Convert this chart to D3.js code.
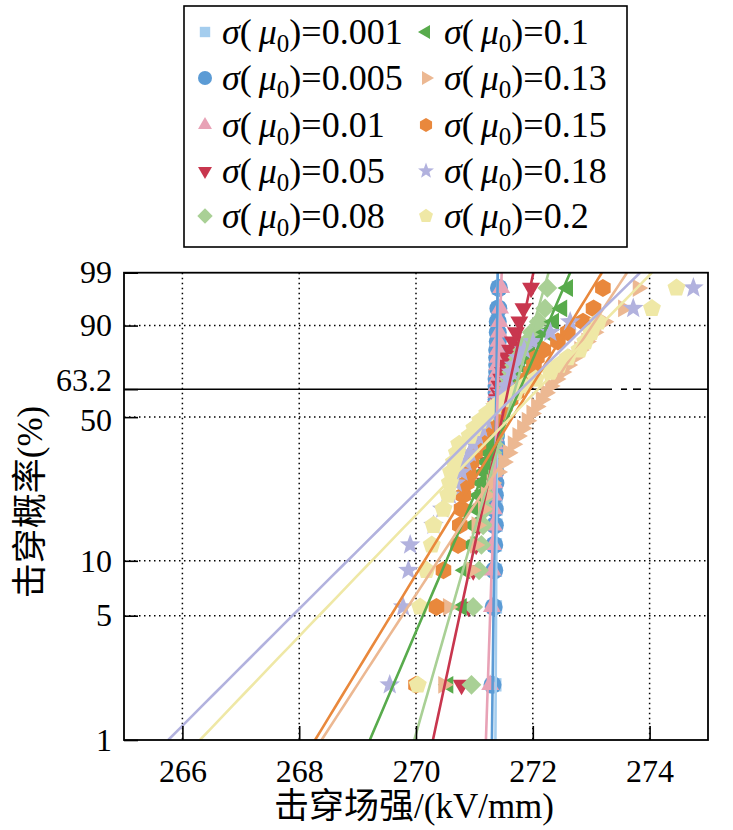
<!DOCTYPE html>
<html><head><meta charset="utf-8">
<script src="https://cdn.jsdelivr.net/npm/d3@7/dist/d3.min.js"></script>
<style>body{margin:0;background:#fff}</style>
</head><body>
<svg id="c" width="733" height="830"></svg>
<script>
// ---------- data ----------
const probTicks = [1, 5, 10, 50, 63.2, 90, 99];
const xTicks = [266, 268, 270, 272, 274];
// plotted cumulative probability (%) of each of the 30 ranked points
const rankProb = [2.05, 5.59, 8.88, 12.17, 15.46, 18.75, 22.04, 25.33, 28.62, 31.91,
  35.20, 38.49, 41.78, 45.07, 48.36, 51.64, 54.93, 58.22, 61.51, 64.80,
  68.09, 71.38, 74.67, 77.96, 81.25, 84.54, 87.83, 91.12, 94.41, 97.70];
const sigmaLabels = ["0.001", "0.005", "0.01", "0.05", "0.08", "0.1", "0.13", "0.15", "0.18", "0.2"];

const s0001 = [271.35,271.36,271.36,271.36,271.37,271.37,271.37,271.37,271.37,271.37,271.38,271.38,271.38,271.38,271.38,271.38,271.38,271.38,271.38,271.39,271.39,271.39,271.39,271.39,271.39,271.39,271.40,271.40,271.40,271.41];
const s0005 = [271.31,271.33,271.34,271.34,271.35,271.35,271.35,271.36,271.36,271.36,271.36,271.37,271.37,271.37,271.37,271.37,271.38,271.38,271.38,271.38,271.38,271.39,271.39,271.39,271.39,271.40,271.40,271.40,271.41,271.42];
const s001 = [271.27,271.30,271.31,271.32,271.33,271.33,271.33,271.34,271.34,271.34,271.35,271.35,271.35,271.36,271.36,271.36,271.37,271.37,271.37,271.38,271.38,271.39,271.39,271.40,271.40,271.41,271.42,271.43,271.44,271.46];
const s005 = [270.78,270.90,270.98,271.03,271.08,271.12,271.15,271.18,271.21,271.23,271.25,271.27,271.29,271.31,271.33,271.35,271.37,271.39,271.41,271.43,271.46,271.49,271.52,271.56,271.61,271.66,271.71,271.77,271.84,271.97];
const s008 = [270.95,270.98,271.08,271.12,271.15,271.18,271.21,271.24,271.27,271.29,271.31,271.33,271.35,271.37,271.39,271.42,271.45,271.48,271.51,271.55,271.59,271.63,271.68,271.74,271.82,271.90,271.98,272.10,272.21,272.25];
const s010 = [270.55,270.78,270.84,270.92,270.96,271.02,271.07,271.11,271.15,271.19,271.23,271.27,271.31,271.35,271.39,271.43,271.47,271.51,271.55,271.60,271.65,271.71,271.78,271.86,271.95,272.08,272.22,272.36,272.50,272.60];
const s013 = [270.47,270.55,270.95,271.01,271.04,271.15,271.20,271.30,271.40,271.50,271.58,271.66,271.74,271.82,271.90,271.98,272.06,272.14,272.22,272.30,272.40,272.50,272.60,272.70,272.80,272.92,273.05,273.22,273.55,273.80];
const s015 = [270.00,270.35,270.47,270.72,270.75,270.78,270.81,270.87,270.90,270.95,271.01,271.07,271.13,271.22,271.32,271.42,271.52,271.62,271.72,271.82,271.90,271.97,272.02,272.07,272.18,272.43,272.60,272.86,273.04,273.20];
const s018 = [269.55,269.78,269.87,269.90,270.30,270.45,270.58,270.68,270.78,270.85,270.92,270.98,271.05,271.12,271.20,271.28,271.36,271.42,271.48,271.53,271.58,271.63,271.68,271.75,271.85,272.00,272.30,272.64,273.72,274.75];
const s020 = [270.03,270.07,270.18,270.27,270.30,270.47,270.55,270.58,270.60,270.65,270.70,270.74,270.92,271.00,271.10,271.22,271.35,271.55,271.70,271.85,272.05,272.30,272.45,272.60,272.80,272.90,273.00,273.12,274.04,274.46];

// fitted Weibull parameters (scale alpha, shape beta) for each series
const fitAlpha = [271.39, 271.375, 271.40, 271.58, 271.695, 271.78, 272.30, 271.95, 271.80, 272.09];
const fitBeta  = [41570, 16620, 6158, 966, 722, 484, 317.5, 337.8, 204.6, 213.9];

const seriesValues = [s0001, s0005, s001, s005, s008, s010, s013, s015, s018, s020];
const colors = ["#a4cdee", "#5b9bd5", "#e8a2b6", "#c8364e", "#a9d095", "#58ab4c", "#ecb892", "#e9883c", "#b2b2de", "#efe8a6"];
const shapes = ["square", "circle", "triUp", "triDown", "diamond", "triLeft", "triRight", "hexagon", "star", "pentagon"];

// ---------- drawing ----------
const svg = d3.select("#c");
const M = {l: 124, r: 708, t: 272.7, b: 740};
const weib = p => Math.log(-Math.log(1 - p / 100));
const x = d3.scaleLinear().domain([265, 275]).range([M.l, M.r]);
const y = d3.scaleLinear().domain([weib(1), weib(99)]).range([M.b, M.t]);
const FONT = "'Liberation Serif','Times New Roman','Noto Sans CJK SC',serif";

function poly(n, r, rot) {
  const pts = [];
  for (let i = 0; i < n; i++) {
    const a = (rot + 360 * i / n) * Math.PI / 180;
    pts.push([r * Math.cos(a), r * Math.sin(a)]);
  }
  return "M" + pts.map(p => p[0].toFixed(2) + "," + p[1].toFixed(2)).join("L") + "Z";
}
function starPath(r) {
  const pts = [];
  for (let i = 0; i < 10; i++) {
    const rr = i % 2 ? r * 0.42 : r;
    const a = (-90 + 36 * i) * Math.PI / 180;
    pts.push([rr * Math.cos(a), rr * Math.sin(a)]);
  }
  return "M" + pts.map(p => p[0].toFixed(2) + "," + p[1].toFixed(2)).join("L") + "Z";
}
function shapePath(s, r) {
  switch (s) {
    case "square": return poly(4, r * 1.05, 45);
    case "circle": return d3.symbol(d3.symbolCircle, Math.PI * r * r)();
    case "triUp": return poly(3, r * 1.15, -90);
    case "triDown": return poly(3, r * 1.15, 90);
    case "triLeft": return poly(3, r * 1.15, 180);
    case "triRight": return poly(3, r * 1.15, 0);
    case "diamond": return poly(4, r * 1.1, -90);
    case "hexagon": return poly(6, r * 1.0, -90);
    case "star": return starPath(r * 1.2);
    case "pentagon": return poly(5, r * 1.05, -90);
  }
}

svg.append("defs").append("clipPath").attr("id", "clip")
  .append("rect").attr("x", M.l).attr("y", M.t).attr("width", M.r - M.l).attr("height", M.b - M.t);

// grid
const grid = svg.append("g");
[5, 10, 50, 90].forEach(p => {
  grid.append("line").attr("x1", M.l).attr("x2", M.r).attr("y1", y(weib(p))).attr("y2", y(weib(p)))
    .attr("stroke", "#000").attr("stroke-width", 1.5).attr("stroke-dasharray", "1.5,3.5");
});
xTicks.forEach(v => {
  grid.append("line").attr("x1", x(v)).attr("x2", x(v)).attr("y1", M.t).attr("y2", M.b)
    .attr("stroke", "#000").attr("stroke-width", 1.5).attr("stroke-dasharray", "1.5,3.5");
});

// 63.2% reference line
const y632 = y(weib(63.2));
const refSegs = [[M.l, 612], [621, 627], [633, 641], [650, M.r]];
refSegs.forEach(s => {
  svg.append("line").attr("x1", s[0]).attr("x2", s[1]).attr("y1", y632).attr("y2", y632)
    .attr("stroke", "#000").attr("stroke-width", 1.6);
});

// markers
const plot = svg.append("g").attr("clip-path", "url(#clip)");
seriesValues.forEach((vals, k) => {
  plot.append("g").selectAll("path").data(vals).join("path")
    .attr("d", shapePath(shapes[k], 9))
    .attr("transform", (d, i) => `translate(${x(d)},${y(weib(rankProb[i]))})`)
    .attr("fill", colors[k]);
});
// fitted lines
const zs = d3.range(0, 41).map(i => weib(1) + (weib(99) - weib(1)) * i / 40);
seriesValues.forEach((vals, k) => {
  const pts = zs.map(z => [fitAlpha[k] * Math.exp(z / fitBeta[k]), z]);
  plot.append("path").datum(pts)
    .attr("d", d3.line().x(d => x(d[0])).y(d => y(d[1])))
    .attr("fill", "none").attr("stroke", colors[k]).attr("stroke-width", 2.6);
});

// axes
const xAxis = d3.axisBottom(x).tickValues(xTicks).tickSizeInner(-14).tickSizeOuter(0).tickPadding(19)
  .tickFormat(d3.format("d"));
const gx = svg.append("g").attr("transform", `translate(0,${M.b})`).call(xAxis);
const yAxis = d3.axisLeft(y).tickValues(probTicks.map(weib)).tickSizeInner(-14).tickSizeOuter(0).tickPadding(12)
  .tickFormat((d, i) => String(probTicks[i]));
const gy = svg.append("g").attr("transform", `translate(${M.l},0)`).call(yAxis);
[gx, gy].forEach(g => {
  g.select(".domain").remove();
  g.selectAll("line").attr("stroke", "#000").attr("stroke-width", 1.6);
  g.selectAll("text").attr("fill", "#000").style("font-family", FONT).style("font-size", "32px");
});
// keep the close 63.2 / 50 labels apart
gy.selectAll(".tick text").attr("dy", (d, i) => probTicks[i] === 63.2 ? "0.05em" : probTicks[i] === 50 ? "0.42em" : "0.32em");

// frame
svg.append("rect").attr("x", M.l).attr("y", M.t).attr("width", M.r - M.l).attr("height", M.b - M.t)
  .attr("fill", "none").attr("stroke", "#000").attr("stroke-width", 1.8);

// axis titles
svg.append("text").attr("x", 414).attr("y", 818).attr("text-anchor", "middle")
  .style("font-family", FONT).style("font-size", "35px").text("击穿场强/(kV/mm)");
svg.append("text").attr("transform", "translate(30,502) rotate(-90)").attr("text-anchor", "middle")
  .attr("dominant-baseline", "central")
  .style("font-family", FONT).style("font-size", "35px").text("击穿概率(%)");

// legend
const lg = svg.append("g");
lg.append("rect").attr("x", 184).attr("y", 6).attr("width", 443).attr("height", 241)
  .attr("fill", "#fff").attr("stroke", "#000").attr("stroke-width", 1.6);
const rowY = [32, 78, 125, 171, 216];
sigmaLabels.forEach((lab, k) => {
  const col = Math.floor(k / 5), row = k % 5;
  const mx = col === 0 ? 205 : 426;
  const tx = col === 0 ? 222 : 444;
  const cy = rowY[row];
  lg.append("path").attr("d", shapePath(shapes[k], 7)).attr("transform", `translate(${mx},${cy})`)
    .attr("fill", colors[k]);
  const t = lg.append("text").attr("x", tx).attr("y", cy + 12)
    .style("font-family", FONT).style("font-size", "36px").attr("fill", "#000");
  t.append("tspan").style("font-style", "italic").text("σ");
  t.append("tspan").text("(");
  t.append("tspan").style("font-style", "italic").attr("dx", 7).text("μ");
  t.append("tspan").style("font-size", "25px").attr("dy", 8).text("0");
  t.append("tspan").attr("dy", -8).text(")=" + lab);
});
</script>
</body></html>
